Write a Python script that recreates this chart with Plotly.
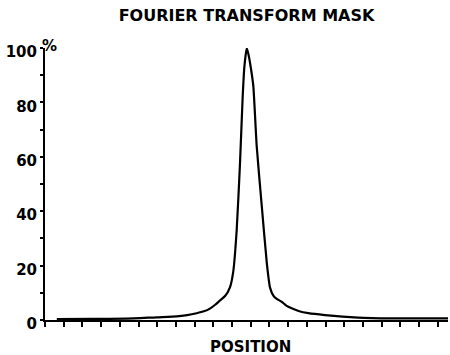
import plotly.graph_objects as go

# Position in tick units (one unit per x tick), intensity in percent
position = [0.63, 2.5, 4.37, 5.97, 7.04, 7.6, 8.11, 8.5, 8.82, 9.1, 9.36, 9.63, 9.89,
            10.07, 10.25, 10.43, 10.57, 10.66, 10.79, 10.9, 11.0, 11.14, 11.32, 11.59,
            11.86, 12.03, 12.21, 12.39, 12.66, 12.9, 13.19, 13.6, 14.08, 14.97, 16.74,
            18.54, 21.55]
intensity = [0.3, 0.4, 0.5, 1.0, 1.3, 1.8, 2.5, 3.2, 4.2, 5.6, 7.2, 8.8, 12,
             18, 33, 58, 82, 93, 100, 97, 93, 86, 64, 42,
             21, 12, 9.0, 7.8, 6.7, 5.3, 4.3, 3.2, 2.5, 1.8, 0.9,
             0.6, 0.6]

y_tickvals = [0, 10, 20, 30, 40, 50, 60, 70, 80, 90, 100]
y_ticktext = ["0", "", "20", "", "40", "", "60", "", "80", "", "100"]
x_tickvals = list(range(0, 22))

title_text = "FOURIER TRANSFORM MASK"
xlabel_text = "POSITION"

FONT = "DejaVu Sans"

fig = go.Figure()
fig.add_trace(go.Scatter(
    x=position, y=intensity, mode="lines",
    line=dict(color="black", width=2.2, shape="spline", smoothing=0.5),
    hoverinfo="skip", showlegend=False,
))

fig.update_layout(
    width=450, height=355,
    margin=dict(l=45, r=2, t=48, b=35),
    paper_bgcolor="white", plot_bgcolor="white",
    title=dict(text=title_text, x=246.5 / 450, xanchor="center",
               y=1 - 15 / 355, yanchor="middle",
               font=dict(family=FONT, size=16, color="black", weight="bold")),
    xaxis=dict(range=[0, 21.55], showgrid=False, zeroline=False,
               showline=True, linecolor="black", linewidth=2,
               tickmode="array", tickvals=x_tickvals, ticktext=[""] * len(x_tickvals),
               ticks="outside", ticklen=5, tickwidth=2, tickcolor="black",
               showticklabels=False),
    yaxis=dict(range=[0, 100], showgrid=False, zeroline=False,
               showline=True, linecolor="black", linewidth=2,
               tickmode="array", tickvals=y_tickvals, ticktext=y_ticktext,
               ticks="outside", ticklen=3, tickwidth=2, tickcolor="black",
               ticklabelshift=4, ticklabelstandoff=0,
               tickfont=dict(family=FONT, size=15, color="black", weight="bold")),
    annotations=[
        dict(text="%", x=0, xref="paper", y=100, yref="y", xanchor="left",
             yanchor="middle", xshift=-5, yshift=2, showarrow=False,
             font=dict(family=FONT, size=15, color="black", weight="bold")),
        dict(text=xlabel_text, x=0.5, xref="paper", y=0, yref="paper",
             xanchor="center", yanchor="middle", xshift=4, yshift=-27,
             showarrow=False,
             font=dict(family=FONT, size=15, color="black", weight="bold")),
    ],
)

fig.write_html("out.html")
